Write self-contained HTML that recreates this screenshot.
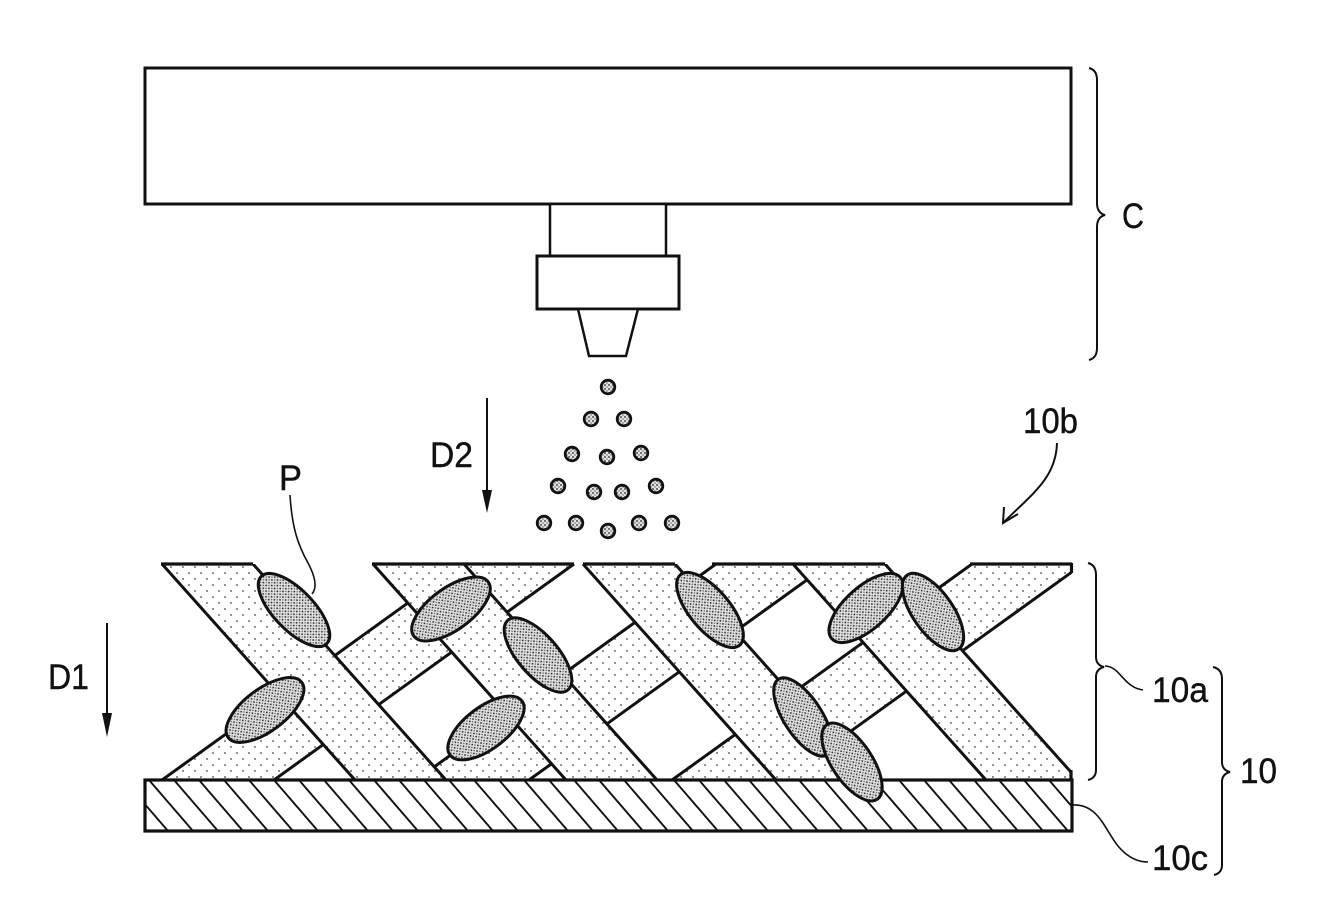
<!DOCTYPE html>
<html>
<head>
<meta charset="utf-8">
<style>
  html,body{margin:0;padding:0;background:#fff;}
  svg{display:block;}
  text{font-family:"Liberation Sans",Arial,sans-serif;fill:#111;stroke:#111;stroke-width:0.4;}
</style>
</head>
<body>
<svg width="1327" height="905" viewBox="0 0 1327 905" xmlns="http://www.w3.org/2000/svg">
  <defs>
    <pattern id="lt" width="12" height="12" patternUnits="userSpaceOnUse">
      <rect width="12" height="12" fill="#fff"/>
      <circle cx="3" cy="3" r="0.95" fill="#666"/>
      <circle cx="9" cy="9" r="0.95" fill="#666"/>
    </pattern>
    <pattern id="dk" width="4" height="4" patternUnits="userSpaceOnUse">
      <rect width="4" height="4" fill="#e2e2e2"/>
      <circle cx="1" cy="1" r="0.9" fill="#222"/>
      <circle cx="3" cy="3" r="0.7" fill="#555"/>
    </pattern>
    <clipPath id="band"><rect x="160" y="564" width="912" height="216"/></clipPath>
    <clipPath id="sub"><rect x="145" y="780" width="927" height="51"/></clipPath>
  </defs>

  <!-- Coating device C -->
  <rect x="145" y="68" width="926" height="136" fill="#fff" stroke="#111" stroke-width="3"/>
  <rect x="550" y="204" width="116" height="52" fill="#fff" stroke="#111" stroke-width="2.5"/>
  <rect x="537" y="256" width="142" height="53" fill="#fff" stroke="#111" stroke-width="3"/>
  <polygon points="578,309 638,309 626,356 589,356" fill="#fff" stroke="#111" stroke-width="2.5"/>

  <!-- Brace C -->
  <path d="M1089,68 Q1097,70 1097,80 L1097,203 Q1097,213 1105,215 Q1097,217 1097,227 L1097,348 Q1097,358 1089,360" fill="none" stroke="#111" stroke-width="2"/>
  <text x="1122" y="228" font-size="35" textLength="22" lengthAdjust="spacingAndGlyphs">C</text>

  <!-- droplets -->
  <g fill="url(#dk)" stroke="#111" stroke-width="2.8">
    <circle cx="608" cy="387" r="6.8"/>
    <circle cx="591" cy="419" r="6.8"/>
    <circle cx="624" cy="419" r="6.8"/>
    <circle cx="572" cy="454" r="6.8"/>
    <circle cx="607" cy="457" r="6.8"/>
    <circle cx="641" cy="453" r="6.8"/>
    <circle cx="558" cy="486" r="6.8"/>
    <circle cx="594" cy="492" r="6.8"/>
    <circle cx="622" cy="492" r="6.8"/>
    <circle cx="656" cy="486" r="6.8"/>
    <circle cx="544" cy="523" r="6.8"/>
    <circle cx="576" cy="523" r="6.8"/>
    <circle cx="608" cy="531" r="6.8"/>
    <circle cx="639" cy="523" r="6.8"/>
    <circle cx="672" cy="523" r="6.8"/>
  </g>

  <!-- D2 arrow -->
  <line x1="487" y1="398" x2="487" y2="495" stroke="#111" stroke-width="2"/>
  <polygon points="482,490 492,490 487,513" fill="#111"/>
  <text x="430" y="467" font-size="35" textLength="43" lengthAdjust="spacingAndGlyphs">D2</text>

  <!-- D1 arrow -->
  <line x1="107" y1="623" x2="107" y2="718" stroke="#111" stroke-width="2"/>
  <polygon points="102,713 112,713 107,737" fill="#111"/>
  <text x="48" y="689" font-size="35" textLength="41" lengthAdjust="spacingAndGlyphs">D1</text>

  <!-- 10b -->
  <text x="1023" y="433" font-size="35" textLength="55" lengthAdjust="spacingAndGlyphs">10b</text>
  <path d="M1057,443 C1056,478 1032,494 1004,522" fill="none" stroke="#111" stroke-width="2"/>
  <polyline points="1004,507 1003,523 1018,514" fill="none" stroke="#111" stroke-width="2"/>

  <!-- P -->
  <text x="279" y="490" font-size="35" textLength="23" lengthAdjust="spacingAndGlyphs">P</text>
  <path d="M290,495 C292,528 298,545 308,563 C316,578 317,588 312,594" fill="none" stroke="#111" stroke-width="1.6"/>

  <!-- fiber layer -->
  <g clip-path="url(#band)">
    <polygon points="162,780 462,564 574,564 274,780" fill="url(#lt)"/>
    <polygon points="416,780 716,564 829,564 529,780" fill="url(#lt)"/>
    <polygon points="672,780 972,564 1072,564 1072,572 783,780" fill="url(#lt)"/>
    <g stroke="#111" stroke-width="3">
      <line x1="162" y1="780" x2="462" y2="564"/>
      <line x1="274" y1="780" x2="574" y2="564"/>
      <line x1="416" y1="780" x2="716" y2="564"/>
      <line x1="529" y1="780" x2="829" y2="564"/>
      <line x1="672" y1="780" x2="972" y2="564"/>
      <line x1="783" y1="780" x2="1083" y2="564"/>
    </g>
    <polygon points="162,564 253,564 446,780 355,780" fill="url(#lt)"/>
    <polygon points="373,564 464,564 657,780 566,780" fill="url(#lt)"/>
    <polygon points="583,564 675,564 868,780 776,780" fill="url(#lt)"/>
    <polygon points="793,564 885,564 1078,780 986,780" fill="url(#lt)"/>
    <g stroke="#111" stroke-width="3">
      <line x1="162" y1="564" x2="355" y2="780"/>
      <line x1="253" y1="564" x2="446" y2="780"/>
      <line x1="373" y1="564" x2="566" y2="780"/>
      <line x1="464" y1="564" x2="657" y2="780"/>
      <line x1="583" y1="564" x2="776" y2="780"/>
      <line x1="675" y1="564" x2="868" y2="780"/>
      <line x1="793" y1="564" x2="986" y2="780"/>
      <line x1="885" y1="564" x2="1078" y2="780"/>
    </g>
  </g>
  <g stroke="#111" stroke-width="3.2" fill="none">
    <line x1="161" y1="564" x2="253" y2="564"/>
    <line x1="372" y1="564" x2="574" y2="564"/>
    <line x1="583" y1="564" x2="675" y2="564"/>
    <line x1="712" y1="564" x2="885" y2="564"/>
    <line x1="970" y1="564" x2="1072" y2="564"/>
    <line x1="1071.5" y1="563" x2="1071.5" y2="573"/>
    <line x1="1071" y1="770" x2="1071" y2="781"/>
  </g>

  <!-- substrate 10c -->
  <rect x="145" y="780" width="927" height="51" fill="#fff"/>
  <g clip-path="url(#sub)" stroke="#111" stroke-width="1.9">
    <line x1="99" y1="780" x2="143" y2="831"/>
    <line x1="124" y1="780" x2="168" y2="831"/>
    <line x1="149" y1="780" x2="193" y2="831"/>
    <line x1="174" y1="780" x2="218" y2="831"/>
    <line x1="199" y1="780" x2="243" y2="831"/>
    <line x1="224" y1="780" x2="268" y2="831"/>
    <line x1="249" y1="780" x2="293" y2="831"/>
    <line x1="274" y1="780" x2="318" y2="831"/>
    <line x1="299" y1="780" x2="343" y2="831"/>
    <line x1="324" y1="780" x2="368" y2="831"/>
    <line x1="349" y1="780" x2="393" y2="831"/>
    <line x1="374" y1="780" x2="418" y2="831"/>
    <line x1="399" y1="780" x2="443" y2="831"/>
    <line x1="424" y1="780" x2="468" y2="831"/>
    <line x1="449" y1="780" x2="493" y2="831"/>
    <line x1="474" y1="780" x2="518" y2="831"/>
    <line x1="499" y1="780" x2="543" y2="831"/>
    <line x1="524" y1="780" x2="568" y2="831"/>
    <line x1="549" y1="780" x2="593" y2="831"/>
    <line x1="574" y1="780" x2="618" y2="831"/>
    <line x1="599" y1="780" x2="643" y2="831"/>
    <line x1="624" y1="780" x2="668" y2="831"/>
    <line x1="649" y1="780" x2="693" y2="831"/>
    <line x1="674" y1="780" x2="718" y2="831"/>
    <line x1="699" y1="780" x2="743" y2="831"/>
    <line x1="724" y1="780" x2="768" y2="831"/>
    <line x1="749" y1="780" x2="793" y2="831"/>
    <line x1="774" y1="780" x2="818" y2="831"/>
    <line x1="799" y1="780" x2="843" y2="831"/>
    <line x1="824" y1="780" x2="868" y2="831"/>
    <line x1="849" y1="780" x2="893" y2="831"/>
    <line x1="874" y1="780" x2="918" y2="831"/>
    <line x1="899" y1="780" x2="943" y2="831"/>
    <line x1="924" y1="780" x2="968" y2="831"/>
    <line x1="949" y1="780" x2="993" y2="831"/>
    <line x1="974" y1="780" x2="1018" y2="831"/>
    <line x1="999" y1="780" x2="1043" y2="831"/>
    <line x1="1024" y1="780" x2="1068" y2="831"/>
    <line x1="1049" y1="780" x2="1093" y2="831"/>
  </g>
  <rect x="145" y="780" width="927" height="51" fill="none" stroke="#111" stroke-width="3.2"/>

  <!-- particles P -->
  <g fill="url(#dk)" stroke="#111" stroke-width="3">
    <ellipse cx="294" cy="610" rx="47" ry="20" transform="rotate(46 294 610)"/>
    <ellipse cx="451" cy="609" rx="46" ry="21" transform="rotate(-36 451 609)"/>
    <ellipse cx="265" cy="710" rx="46" ry="21" transform="rotate(-37 265 710)"/>
    <ellipse cx="486" cy="728" rx="45" ry="21" transform="rotate(-37 486 728)"/>
    <ellipse cx="538" cy="655" rx="46" ry="20" transform="rotate(49 538 655)"/>
    <ellipse cx="710" cy="610" rx="46" ry="20" transform="rotate(50 710 610)"/>
    <ellipse cx="866" cy="608" rx="46" ry="21" transform="rotate(-42 866 608)"/>
    <ellipse cx="933" cy="612" rx="45" ry="20" transform="rotate(55 933 612)"/>
    <ellipse cx="803" cy="717" rx="45" ry="19" transform="rotate(57 803 717)"/>
    <ellipse cx="852" cy="762" rx="45" ry="20" transform="rotate(56 852 762)"/>
  </g>

  <!-- Brace 10a -->
  <path d="M1088,563 Q1096,565 1096,575 L1096,657 Q1096,665 1104,667 Q1096,669 1096,677 L1096,770 Q1096,778 1088,780" fill="none" stroke="#111" stroke-width="2"/>
  <path d="M1105,666 C1120,666 1124,688 1143,690" fill="none" stroke="#111" stroke-width="1.6"/>
  <text x="1152" y="702" font-size="35" textLength="56" lengthAdjust="spacingAndGlyphs">10a</text>

  <!-- Brace 10 -->
  <path d="M1213,667 Q1222,669 1222,679 L1222,762 Q1222,770 1230,772 Q1222,774 1222,782 L1222,865 Q1222,873 1214,875" fill="none" stroke="#111" stroke-width="2"/>
  <text x="1240" y="783" font-size="35" textLength="37" lengthAdjust="spacingAndGlyphs">10</text>

  <!-- 10c leader -->
  <path d="M1072,805 C1098,803 1105,830 1118,846 C1128,858 1138,862 1148,862" fill="none" stroke="#111" stroke-width="1.6"/>
  <text x="1152" y="870" font-size="35" textLength="56" lengthAdjust="spacingAndGlyphs">10c</text>
</svg>
</body>
</html>
